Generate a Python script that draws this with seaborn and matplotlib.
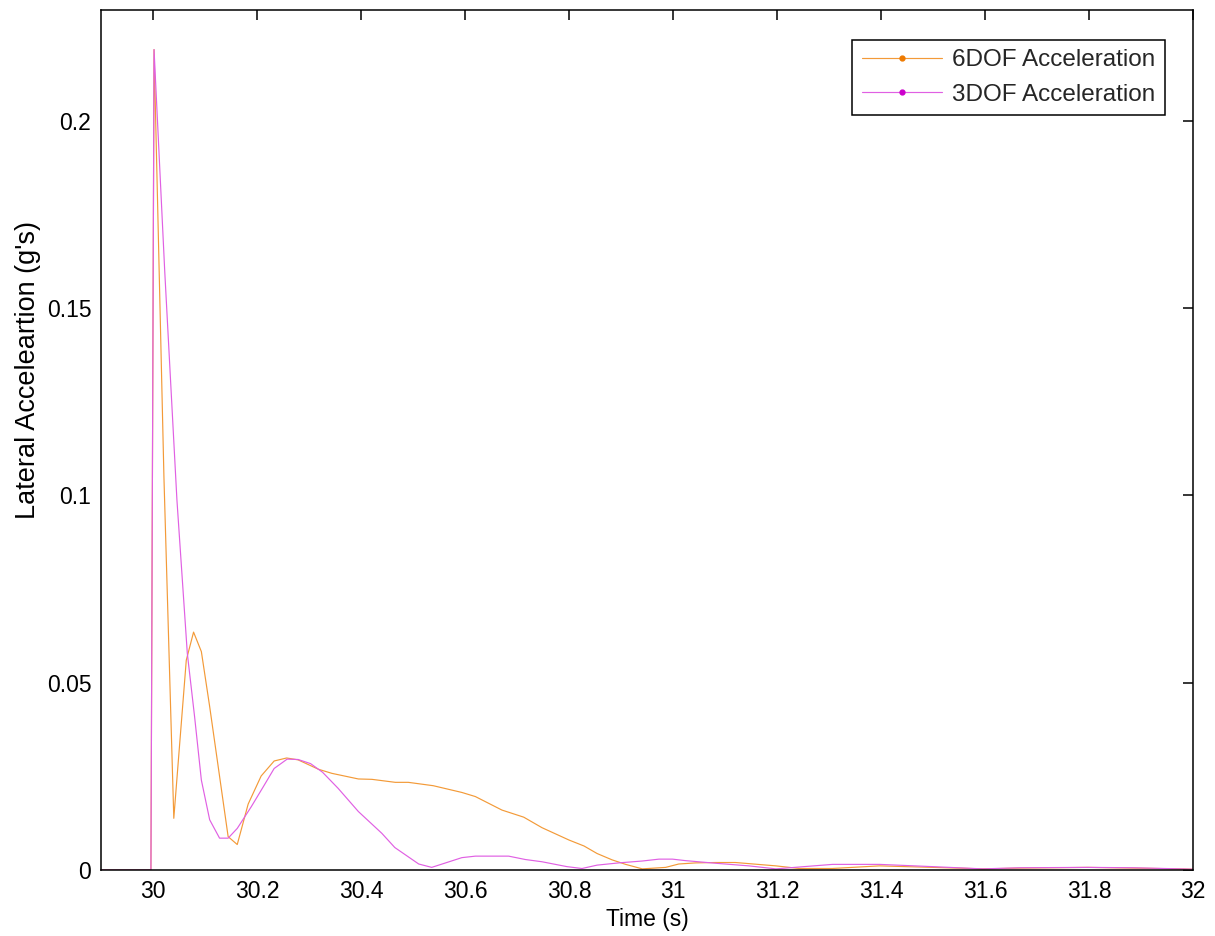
import numpy as np
import pandas as pd
import matplotlib
matplotlib.use("Agg")
import matplotlib.pyplot as plt
import seaborn as sns
from matplotlib.lines import Line2D

# ---------------- data ----------------
t_6dof = [29.90, 29.996, 30.002, 30.021, 30.040, 30.064, 30.078, 30.093, 30.109,
          30.1445, 30.162, 30.183, 30.208, 30.233, 30.257, 30.279, 30.318, 30.344,
          30.395, 30.421, 30.466, 30.491, 30.539, 30.594, 30.620, 30.671, 30.713,
          30.748, 30.800, 30.829, 30.854, 30.883, 30.909, 30.941, 30.986, 31.011,
          31.044, 31.082, 31.120, 31.146, 31.198, 31.243, 31.306, 31.397, 31.499,
          31.596, 31.667, 31.798, 31.885, 31.975, 32.0]
a_6dof = [0.0, 0.0, 0.219, 0.105, 0.0138, 0.0560, 0.0635, 0.0583, 0.0436,
          0.0089, 0.0068, 0.0176, 0.0251, 0.0291, 0.0299, 0.0294, 0.0269, 0.0258,
          0.0243, 0.0242, 0.0234, 0.0234, 0.0225, 0.0207, 0.0196, 0.0160, 0.0141,
          0.0113, 0.0080, 0.0064, 0.0044, 0.0027, 0.0015, 0.0003, 0.0007, 0.0016,
          0.0019, 0.0020, 0.0020, 0.0017, 0.0011, 0.0004, 0.0004, 0.0011, 0.0007,
          0.0003, 0.0005, 0.0007, 0.0005, 0.0003, 0.0002]

t_3dof = [29.90, 29.996, 30.002, 30.0225, 30.046, 30.066, 30.080, 30.093, 30.109,
          30.128, 30.1445, 30.162, 30.189, 30.212, 30.233, 30.258, 30.279, 30.303,
          30.326, 30.356, 30.395, 30.440, 30.465, 30.511, 30.536, 30.594, 30.620,
          30.684, 30.716, 30.748, 30.796, 30.825, 30.854, 30.896, 30.941, 30.973,
          30.999, 31.024, 31.082, 31.146, 31.198, 31.243, 31.307, 31.397, 31.499,
          31.596, 31.667, 31.798, 31.885, 31.975, 32.0]
a_3dof = [0.0, 0.0, 0.219, 0.160, 0.0988, 0.0578, 0.0409, 0.0240, 0.0134,
          0.0085, 0.0085, 0.0111, 0.0169, 0.0222, 0.0271, 0.0296, 0.0295, 0.0284,
          0.0261, 0.0218, 0.0156, 0.0098, 0.0060, 0.0016, 0.0007, 0.0033, 0.0037,
          0.0037, 0.0028, 0.0022, 0.0009, 0.0004, 0.0013, 0.0019, 0.0024, 0.0029,
          0.0029, 0.0025, 0.0018, 0.0011, 0.0003, 0.0008, 0.0015, 0.0015, 0.0009,
          0.0003, 0.0006, 0.0007, 0.0006, 0.0003, 0.0002]

series_names = ["6DOF Acceleration", "3DOF Acceleration"]
x_ticks = [30.0, 30.2, 30.4, 30.6, 30.8, 31.0, 31.2, 31.4, 31.6, 31.8, 32.0]
x_tick_labels = ["30", "30.2", "30.4", "30.6", "30.8", "31", "31.2", "31.4", "31.6", "31.8", "32"]
y_ticks = [0.0, 0.05, 0.1, 0.15, 0.2]
y_tick_labels = ["0", "0.05", "0.1", "0.15", "0.2"]
x_label = "Time (s)"
y_label = "Lateral Acceleartion (g's)"

# ---------------- style ----------------
sns.set_theme(style="white")
plt.rcParams["font.family"] = ["Liberation Sans", "DejaVu Sans"]

line_colors = {"6DOF Acceleration": "#F39A38", "3DOF Acceleration": "#E060E3"}
marker_colors = {"6DOF Acceleration": "#EE7A00", "3DOF Acceleration": "#CC00CC"}
FS = 16.5

df = pd.concat([
    pd.DataFrame({"t": t_6dof, "a": a_6dof, "series": series_names[0]}),
    pd.DataFrame({"t": t_3dof, "a": a_3dof, "series": series_names[1]}),
], ignore_index=True)

fig = plt.figure(figsize=(12.15, 9.36), dpi=100)
ax = fig.add_axes([101 / 1215, 66 / 936, 1092 / 1215, 860.5 / 936])

sns.lineplot(data=df, x="t", y="a", hue="series", hue_order=series_names,
             palette=line_colors, estimator=None, sort=False, lw=0.85,
             legend=False, ax=ax)

ax.set_xlim(29.9, 32.0)
ax.set_ylim(0, 0.2297)
ax.set_xticks(x_ticks)
ax.set_xticklabels(x_tick_labels)
ax.set_yticks(y_ticks)
ax.set_yticklabels(y_tick_labels)

ax.tick_params(direction="in", length=7, width=1.1, top=True, right=True,
               colors="black", labelsize=FS, pad=7)
for s in ax.spines.values():
    s.set_color("black")
    s.set_linewidth(1.1)
    s.set_visible(True)

ax.set_xlabel(x_label, fontsize=FS, color="black", labelpad=4)
ax.set_ylabel(y_label, fontsize=19.5, color="black", va="center")
ax.yaxis.set_label_coords(-0.0668, 0.581)

handles = [Line2D([], [], color=line_colors[n], lw=0.85, marker="o", ms=3.5,
                  mfc=marker_colors[n], mec=marker_colors[n]) for n in series_names]
leg = ax.legend(handles, series_names, loc="upper right",
                bbox_to_anchor=(0.9744, 0.965), borderaxespad=0,
                frameon=True, fancybox=False, edgecolor="black", framealpha=1,
                fontsize=17.5, handlelength=3.3, handletextpad=0.4,
                labelspacing=0.5, borderpad=0.4)
leg.get_frame().set_linewidth(1.1)

fig.savefig("out.png", dpi=100, facecolor="white")
